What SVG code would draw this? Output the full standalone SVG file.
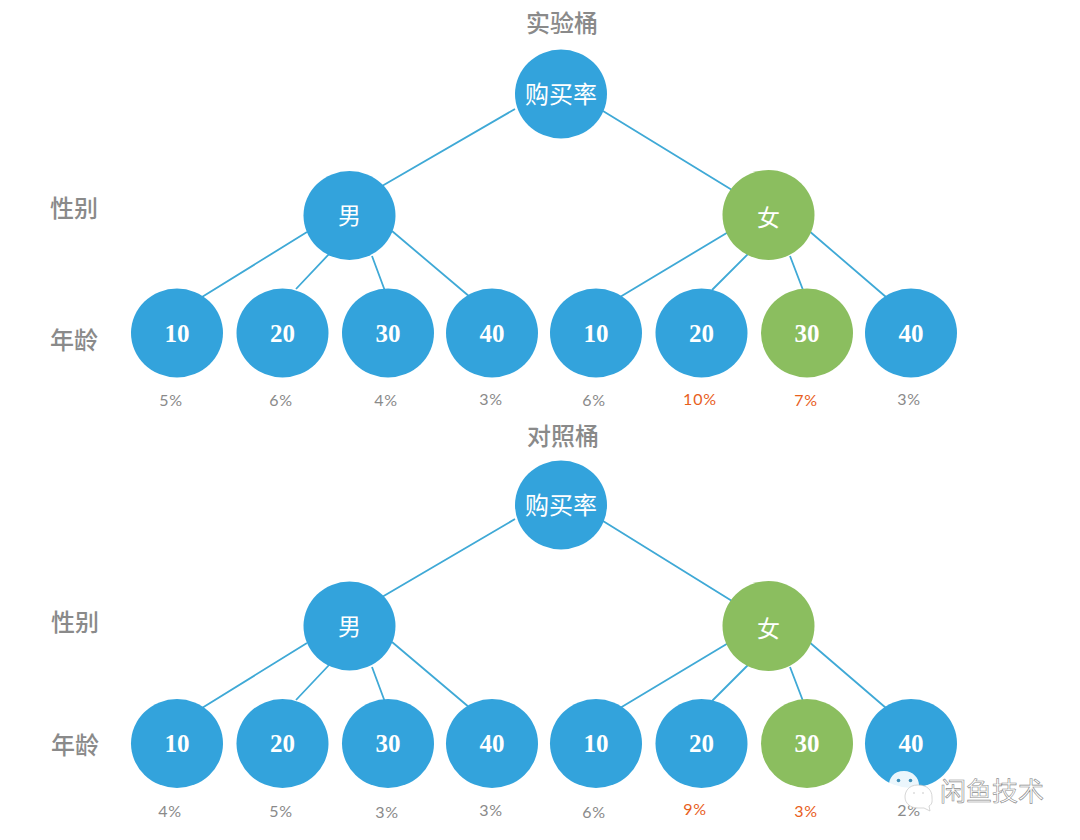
<svg xmlns="http://www.w3.org/2000/svg" width="1080" height="840" viewBox="0 0 1080 840">
<style>
text{text-anchor:middle}
.blue{fill:#33a3dc}
.green{fill:#8bbe5f}
.ln{stroke:#3fa9d6;stroke-width:1.8;fill:none}
.t{font:500 24px "Noto Sans CJK SC","Noto Sans",sans-serif;fill:#8a8a8a}
.c{font:400 23px "Noto Sans CJK SC",sans-serif;fill:#fff}
.r{font:400 24px "Noto Sans CJK SC",sans-serif;fill:#fff}
.n{font:700 25px "Liberation Serif",serif;fill:#fff}
.p{font:400 16px "Lato","Noto Sans",sans-serif;fill:#8a8a8a;letter-spacing:.8px}
.o{font:400 16px "Lato","Noto Sans",sans-serif;fill:#e8601c;letter-spacing:.8px}
.w{font:400 26px "Noto Sans CJK SC",sans-serif;fill:#fff;stroke:#8c8c8c;stroke-width:.6}
</style>
<rect width="1080" height="840" fill="#fff"/>
<g id="connectors">
<path class="ln" d="M515 109L382 186M603 111L732 190M307 232L202 297M330 253L296 289M372 256L385 291M392 231L470 297M730 231L620 297M749 253L712 290M790 256L803 290M808 230L886 297"/>
<path class="ln" d="M515 519L382 597M603 521L732 601M307 643L202 708M330 664L296 700M372 667L385 702M392 642L470 708M730 642L620 708M749 664L712 701M790 667L803 701M808 641L886 708"/>
</g>
<g id="title-top"><text class="t" x="562" y="32">实验桶</text></g>
<g id="label-gender-top"><text class="t" x="74" y="217">性别</text></g>
<g id="label-age-top"><text class="t" x="74" y="349">年龄</text></g>
<g id="root-top"><ellipse class="blue" cx="561" cy="94" rx="46" ry="44.5"/><text class="r" x="561" y="103">购买率</text></g>
<g id="male-top"><ellipse class="blue" cx="349.500" cy="215.500" rx="46" ry="44.500"/><text class="c" x="349.500" y="224">男</text></g>
<g id="female-top"><ellipse class="green" cx="768.500" cy="215" rx="46" ry="45"/><text class="c" x="768.500" y="226">女</text></g>
<g id="m10-top"><ellipse class="blue" cx="177" cy="333" rx="46" ry="44.500"/><text class="n" x="177" y="342">10</text><text class="p" x="171" y="406">5%</text></g>
<g id="m20-top"><ellipse class="blue" cx="282.500" cy="333" rx="46" ry="44.500"/><text class="n" x="282.500" y="342">20</text><text class="p" x="281" y="406">6%</text></g>
<g id="m30-top"><ellipse class="blue" cx="388" cy="333" rx="46" ry="44.500"/><text class="n" x="388" y="342">30</text><text class="p" x="386" y="406">4%</text></g>
<g id="m40-top"><ellipse class="blue" cx="492" cy="333" rx="46" ry="44.500"/><text class="n" x="492" y="342">40</text><text class="p" x="491" y="405">3%</text></g>
<g id="f10-top"><ellipse class="blue" cx="596" cy="333" rx="46" ry="44.500"/><text class="n" x="596" y="342">10</text><text class="p" x="594" y="406">6%</text></g>
<g id="f20-top"><ellipse class="blue" cx="701.500" cy="333" rx="46" ry="44.500"/><text class="n" x="701.500" y="342">20</text><text class="o" x="700" y="405">10%</text></g>
<g id="f30-top"><ellipse class="green" cx="807" cy="333" rx="46" ry="44.500"/><text class="n" x="807" y="342">30</text><text class="o" x="806" y="406">7%</text></g>
<g id="f40-top"><ellipse class="blue" cx="911" cy="333" rx="46" ry="44.500"/><text class="n" x="911" y="342">40</text><text class="p" x="909" y="405">3%</text></g>
<g id="title-bottom"><text class="t" x="563" y="445">对照桶</text></g>
<g id="label-gender-bottom"><text class="t" x="75" y="631">性别</text></g>
<g id="label-age-bottom"><text class="t" x="75" y="754">年龄</text></g>
<g id="root-bottom"><ellipse class="blue" cx="561" cy="505" rx="46" ry="44.500"/><text class="r" x="561" y="514">购买率</text></g>
<g id="male-bottom"><ellipse class="blue" cx="349.500" cy="626" rx="46" ry="44.500"/><text class="c" x="349.500" y="635">男</text></g>
<g id="female-bottom"><ellipse class="green" cx="768.500" cy="626" rx="46" ry="45"/><text class="c" x="768.500" y="637">女</text></g>
<g id="m10-bottom"><ellipse class="blue" cx="177" cy="743.500" rx="46" ry="44.500"/><text class="n" x="177" y="752">10</text><text class="p" x="170" y="817">4%</text></g>
<g id="m20-bottom"><ellipse class="blue" cx="282.500" cy="743.500" rx="46" ry="44.500"/><text class="n" x="282.500" y="752">20</text><text class="p" x="281" y="817">5%</text></g>
<g id="m30-bottom"><ellipse class="blue" cx="388" cy="743.500" rx="46" ry="44.500"/><text class="n" x="388" y="752">30</text><text class="p" x="387" y="818">3%</text></g>
<g id="m40-bottom"><ellipse class="blue" cx="492" cy="743.500" rx="46" ry="44.500"/><text class="n" x="492" y="752">40</text><text class="p" x="491" y="816">3%</text></g>
<g id="f10-bottom"><ellipse class="blue" cx="596" cy="743.500" rx="46" ry="44.500"/><text class="n" x="596" y="752">10</text><text class="p" x="594" y="818">6%</text></g>
<g id="f20-bottom"><ellipse class="blue" cx="701.500" cy="743.500" rx="46" ry="44.500"/><text class="n" x="701.500" y="752">20</text><text class="o" x="695" y="815">9%</text></g>
<g id="f30-bottom"><ellipse class="green" cx="807" cy="743.500" rx="46" ry="44.500"/><text class="n" x="807" y="752">30</text><text class="o" x="806" y="817">3%</text></g>
<g id="f40-bottom"><ellipse class="blue" cx="911" cy="743.500" rx="46" ry="44.500"/><text class="n" x="911" y="752">40</text><text class="p" x="909" y="816">2%</text></g>
<g id="watermark">
<path d="M904 771C893 771 889 779 889 785C889 791 892 795 896 797L894 801L901 799L906 800C916 800 919 793 919 785C919 778 913 771 904 771Z" fill="#fff" fill-opacity=".9"/>
<circle cx="898.500" cy="780.500" r="1.800" fill="#3f8fb8"/><circle cx="910.500" cy="780.500" r="1.800" fill="#3f8fb8"/>
<path d="M918 785C908 785 905 792 905 797C905 803 910 808 918 808L924 808L930 811L929 806C933 804 932 800 932 797C932 790 927 785 918 785Z" fill="#fff" stroke="#c4c4c4" stroke-width=".7"/>
<circle cx="914" cy="793" r="1" fill="#ddd"/><circle cx="923" cy="793" r="1" fill="#ddd"/>
<text class="w" x="992" y="801">闲鱼技术</text>
</g>
</svg>
